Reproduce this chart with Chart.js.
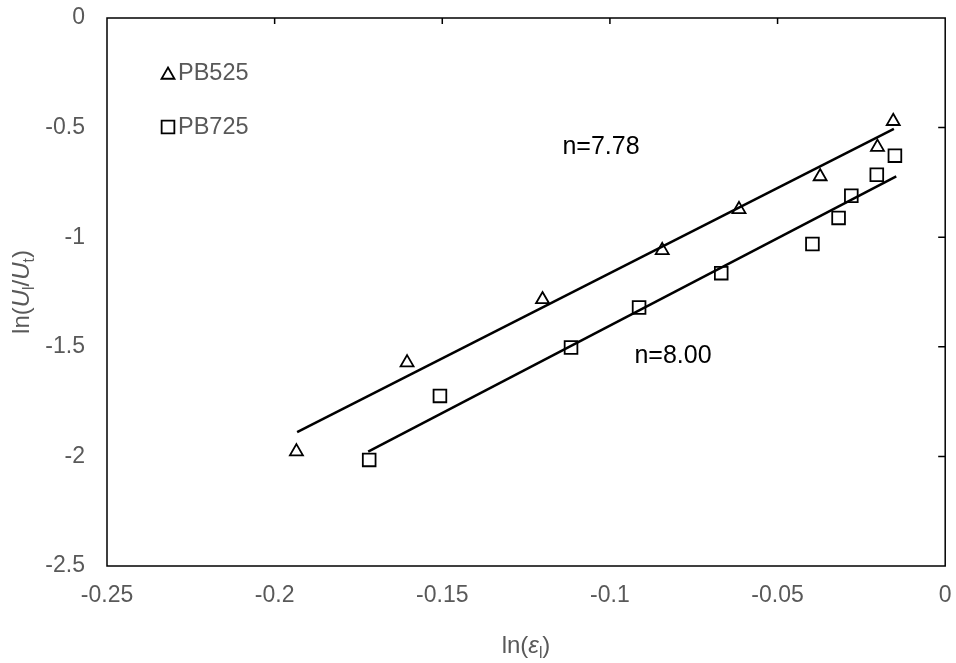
<!DOCTYPE html>
<html>
<head>
<meta charset="utf-8">
<script src="https://cdn.jsdelivr.net/npm/chart.js@4/dist/chart.umd.min.js"></script>
<style>
  html, body { margin: 0; padding: 0; background: #fff; }
  #wrap { width: 956px; height: 663px; position: relative; }
</style>
</head>
<body>
<div id="wrap"><canvas id="chart"></canvas></div>
<script>
// measured points, ln(eps_l) vs ln(Ul/Ut)
const pb525X = [-0.1935, -0.1605, -0.1201, -0.0844, -0.0615, -0.0373, -0.0202, -0.0155];
const pb525Y = [-1.978, -1.572, -1.284, -1.060, -0.873, -0.723, -0.589, -0.471];
const pb725X = [-0.1718, -0.1507, -0.1116, -0.0913, -0.0668, -0.0396, -0.0318, -0.0280, -0.0204, -0.0150];
const pb725Y = [-2.016, -1.724, -1.503, -1.321, -1.164, -1.031, -0.912, -0.811, -0.715, -0.628];

// fitted lines (end points)
const fit525X = [-0.1933, -0.0153];
const fit525Y = [-1.8895, -0.506];
const fit725X = [-0.1721, -0.0146];
const fit725Y = [-1.978, -0.7224];

const xTicks = [-0.25, -0.2, -0.15, -0.1, -0.05, 0];
const xTickLabels = ['-0.25', '-0.2', '-0.15', '-0.1', '-0.05', '0'];
const yTicks = [-2.5, -2, -1.5, -1, -0.5, 0];
const yTickLabels = ['-2.5', '-2', '-1.5', '-1', '-0.5', '0'];

const seriesNames = ['PB525', 'PB725'];
const slopeLabels = ['n=7.78', 'n=8.00'];

const grey = '#595959';
const FONT = '"Liberation Sans", Arial, sans-serif';

function pts(xs, ys) {
    return xs.map((x, i) => ({ x: x, y: ys[i] }));
}

function setTicks(values) {
    return function(scale) {
        scale.ticks = values.map(v => ({ value: v }));
    };
}

// no extra label overhang, so the plot box sits where the padding says
function noOverhang(scale) {
    scale.paddingTop = 0;
    scale.paddingBottom = 0;
    scale.paddingLeft = 0;
    scale.paddingRight = 0;
}

// draw text made of pieces (normal / italic / subscript)
function richWidth(ctx, parts, size) {
    let w = 0;
    parts.forEach(p => {
        const s = p.sub ? size * 0.65 : size;
        ctx.font = (p.italic ? 'italic ' : '') + s + 'px ' + FONT;
        w += ctx.measureText(p.t).width;
    });
    return w;
}
function drawRich(ctx, parts, size, x, y) {
    let cx = x;
    parts.forEach(p => {
        const s = p.sub ? size * 0.65 : size;
        ctx.font = (p.italic ? 'italic ' : '') + s + 'px ' + FONT;
        ctx.fillText(p.t, cx, p.sub ? y + size * 0.22 : y);
        cx += ctx.measureText(p.t).width;
    });
}

const extras = {
    id: 'extras',
    afterDraw(chart) {
        const ctx = chart.ctx;
        const area = chart.chartArea;
        const xs = chart.scales.x, ys = chart.scales.y;
        ctx.save();

        // plot frame
        ctx.strokeStyle = '#000';
        ctx.lineWidth = 1.5;
        ctx.strokeRect(area.left, area.top, area.right - area.left, area.bottom - area.top);

        // inner tick marks on top and right edges
        ctx.beginPath();
        xTicks.slice(1, -1).forEach(v => {
            const px = xs.getPixelForValue(v);
            ctx.moveTo(px, area.top);
            ctx.lineTo(px, area.top + 6);
        });
        yTicks.slice(1, -1).forEach(v => {
            const py = ys.getPixelForValue(v);
            ctx.moveTo(area.right, py);
            ctx.lineTo(area.right - 7, py);
        });
        ctx.stroke();

        // legend inside plot
        const legendStyles = ['triangle', 'rect'];
        const legendR = [7.5, 9];
        const legendY = [73, 127];
        ctx.textBaseline = 'middle';
        ctx.textAlign = 'left';
        seriesNames.forEach((name, i) => {
            ctx.strokeStyle = '#000';
            ctx.fillStyle = 'rgba(0,0,0,0)';
            ctx.lineWidth = 1.8;
            const off = legendStyles[i] === 'triangle' ? 2 : 0;
            Chart.helpers.drawPoint(ctx, { pointStyle: legendStyles[i], radius: legendR[i], borderWidth: 1.8, rotation: 0 }, 168, legendY[i] + off);
            ctx.fillStyle = grey;
            ctx.font = '23.5px ' + FONT;
            ctx.fillText(name, 178, legendY[i] + 1);
        });

        // slope labels
        ctx.fillStyle = '#000';
        ctx.font = '25px ' + FONT;
        ctx.textAlign = 'center';
        ctx.fillText(slopeLabels[0], 601, 147);
        ctx.fillText(slopeLabels[1], 673, 356);

        // axis titles
        ctx.fillStyle = grey;
        ctx.textAlign = 'left';
        ctx.textBaseline = 'alphabetic';
        const xt = [{ t: 'ln(' }, { t: 'ε', italic: true }, { t: 'l', sub: true }, { t: ')' }];
        const xw = richWidth(ctx, xt, 24);
        drawRich(ctx, xt, 24, 526 - xw / 2, 653);

        const yt = [{ t: 'ln(' }, { t: 'U', italic: true }, { t: 'l', sub: true }, { t: '/' },
                    { t: 'U', italic: true }, { t: 't', sub: true }, { t: ')' }];
        const yw = richWidth(ctx, yt, 24);
        ctx.translate(29, 292);
        ctx.rotate(-Math.PI / 2);
        drawRich(ctx, yt, 24, -yw / 2, 0);

        ctx.restore();
    }
};

new Chart(document.getElementById('chart'), {
    type: 'scatter',
    data: {
        datasets: [
            {
                label: seriesNames[0],
                data: pts(pb525X, pb525Y),
                pointStyle: 'triangle',
                pointRadius: 7.5,
                pointBorderWidth: 1.8,
                pointBorderColor: '#000',
                pointBackgroundColor: 'rgba(0,0,0,0)',
                showLine: false
            },
            {
                label: seriesNames[1],
                data: pts(pb725X, pb725Y),
                pointStyle: 'rect',
                pointRadius: 9,
                pointBorderWidth: 1.8,
                pointBorderColor: '#000',
                pointBackgroundColor: 'rgba(0,0,0,0)',
                showLine: false
            },
            {
                label: 'fit525',
                data: pts(fit525X, fit525Y),
                showLine: true,
                borderColor: '#000',
                borderWidth: 2.5,
                pointRadius: 0
            },
            {
                label: 'fit725',
                data: pts(fit725X, fit725Y),
                showLine: true,
                borderColor: '#000',
                borderWidth: 2.5,
                pointRadius: 0
            }
        ]
    },
    options: {
        responsive: true,
        maintainAspectRatio: false,
        animation: false,
        layout: { padding: { top: 18, right: 8, left: 0, bottom: 0 } },
        plugins: {
            legend: { display: false },
            tooltip: { enabled: false }
        },
        scales: {
            x: {
                type: 'linear',
                min: -0.25,
                max: 0,
                afterBuildTicks: setTicks(xTicks),
                afterFit(scale) { scale.height = 97; noOverhang(scale); },
                grid: { display: false, drawTicks: false },
                border: { display: false },
                ticks: {
                    color: grey,
                    font: { family: FONT, size: 23 },
                    padding: 16,
                    maxRotation: 0,
                    callback: (v, i) => xTickLabels[i]
                }
            },
            y: {
                type: 'linear',
                min: -2.5,
                max: 0,
                afterBuildTicks: setTicks(yTicks),
                afterFit(scale) { scale.width = 107; noOverhang(scale); },
                grid: { display: false, drawTicks: false },
                border: { display: false },
                ticks: {
                    color: grey,
                    font: { family: FONT, size: 23 },
                    padding: 22,
                    callback: (v, i) => yTickLabels[i]
                }
            }
        }
    },
    plugins: [extras]
});
</script>
</body>
</html>
